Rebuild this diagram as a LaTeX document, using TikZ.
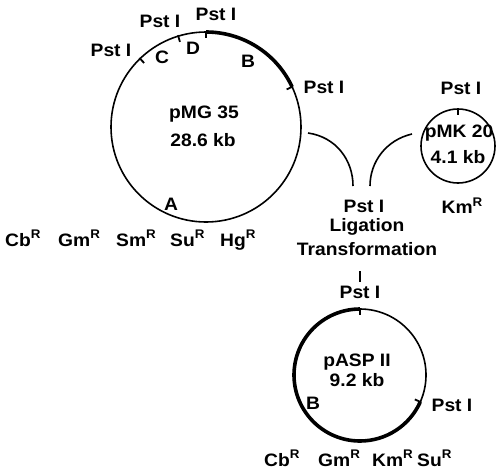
\documentclass[tikz,border=0pt]{standalone}
\usepackage{fontspec}
\setmainfont{Liberation Sans}[FakeStretch=1.07]
\usetikzlibrary{calc}
\newcommand\lbl{\fontsize{18}{20}\selectfont\bfseries}
\newcommand\rsup{\raisebox{0.40em}{\fontsize{12.5}{12.5}\selectfont R}}
\begin{document}
\begin{tikzpicture}[x=1pt,y=-1pt,
  every node/.style={font=\lbl, inner sep=0pt},
  ring/.style={draw, circle, line width=1.6pt, inner sep=0pt},
  thickarc/.style={line width=3.6pt},
  sitetick/.style={line width=1.8pt},
  link/.style={line width=1.6pt}]
\useasboundingbox (0,0) rectangle (500,469);

% pMG 35
\node[ring, minimum size=190pt] (pmg) at (206,127) {};
\draw[thickarc] ($(pmg.center)+(-90:95)$) arc[start angle=-90, end angle=-25, radius=95];
\foreach \a in {134,107,90,25}
  \draw[sitetick] ($(pmg.center)+(-\a:96)$) -- ($(pmg.center)+(-\a:89)$);
\node (p1) at (111,50) {Pst I};
\node (p2) at (160,21) {Pst I};
\node (p3) at (216,14) {Pst I};
\node (p4) at (324,87) {Pst I};
\node (sc) at (162,57) {C};
\node (sd) at (193,48) {D};
\node (sb) at (248,61) {B};
\node (sa) at (171,204) {A};
\node (n1) at (204,114) {pMG 35};
\node (n2) at (203,140) {28.6 kb};
\node[anchor=base west] (m1) at (5,246) {Cb\rsup};
\node[anchor=base west] (m2) at (58,246) {Gm\rsup};
\node[anchor=base west] (m3) at (116,246) {Sm\rsup};
\node[anchor=base west] (m4) at (170,246) {Su\rsup};
\node[anchor=base west] (m5) at (220,246) {Hg\rsup};

% pMK 20
\node[ring, minimum size=74pt] (pmk) at (458,146) {};
\draw[sitetick] (pmk.north) -- ++(0,7);
\node (k1) at (461,88) {Pst I};
\node (k2) at (459,133) {pMK 20};
\node (k3) at (458,157) {4.1 kb};
\node (k4) at (462,206) {Km\rsup};

% joining curves
\coordinate (l1) at (308,133);
\coordinate (l2) at (353,186);
\coordinate (r1) at (412,134);
\coordinate (r2) at (370,186);
\draw[link] (l1) .. controls (336,137) and (353,160) .. (l2);
\draw[link] (r1) .. controls (386,140) and (370,162) .. (r2);
\node (j1) at (364,206) {Pst I};
\node (j2) at (367,227) {Ligation};
\node (j3) at (367,249) {Transformation};
\coordinate (v1) at (360,271);
\coordinate (v2) at (360,282);
\draw[link] (v1) -- (v2);

% pASP 11
\node[ring, minimum size=132pt] (pasp) at (360,375) {};
\draw[thickarc] ($(pasp.center)+(-90:66)$) arc[start angle=-90, end angle=-336, radius=66];
\foreach \a in {90,-24}
  \draw[sitetick] ($(pasp.center)+(-\a:67)$) -- ($(pasp.center)+(-\a:60)$);
\node (a1) at (360,292) {Pst I};
\node (a2) at (357,362) {pASP II};
\node (a3) at (357,380) {9.2 kb};
\node (a4) at (313,403) {B};
\node (a5) at (452,405) {Pst I};
\node[anchor=base west] (b1) at (264,466) {Cb\rsup};
\node[anchor=base west] (b2) at (318,466) {Gm\rsup};
\node[anchor=base west] (b3) at (372,466) {Km\rsup};
\node[anchor=base west] (b4) at (417,466) {Su\rsup};
\end{tikzpicture}
\end{document}
